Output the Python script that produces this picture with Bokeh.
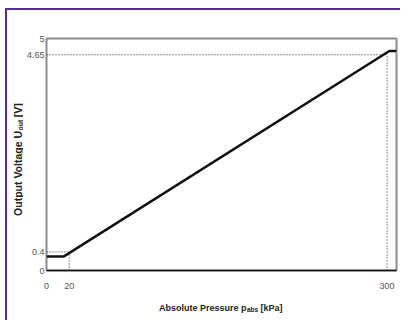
import math
from bokeh.plotting import figure
from bokeh.layouts import column, row
from bokeh.models import FixedTicker, Label, Range1d
from bokeh.embed import file_html
from bokeh.resources import INLINE

# Transfer characteristic
curve_p = [0, 15, 302, 308.3]          # absolute pressure, kPa
curve_u = [0.30, 0.30, 4.73, 4.73]     # output voltage, V

# Marked operating points (dotted guide lines)
mark_p = [20, 300]
mark_u = [0.4, 4.65]

x_ticks = [0, 20, 300]
y_ticks = [0, 0.4, 4.65, 5]
x_tick_labels = {0: "0", 20: "20", 300: "300"}
y_tick_labels = {0: "0", 0.4: "0.4", 4.65: "4.65", 5: "5"}

x_title = ["Absolute Pressure p", "abs", "[kPa]"]
y_title = ["Output Voltage U", "out", "[V]"]

FONT = "Liberation Sans"
PURPLE = "#5b2f8f"
TITLE_COLOR = "#222222"

# ---------------- main chart ----------------
P_W, P_H = 377, 286
p = figure(width=P_W, height=P_H, output_backend="svg", toolbar_location=None,
           x_range=Range1d(0, 308.3), y_range=Range1d(0, 5),
           min_border_left=20, min_border_right=4, min_border_top=28,
           min_border_bottom=26)
p.background_fill_color = "white"
p.border_fill_color = "white"
p.grid.visible = False
p.outline_line_color = "#8c8c8c"
p.outline_line_width = 2

p.xaxis.ticker = FixedTicker(ticks=x_ticks)
p.xaxis.major_label_overrides = x_tick_labels
p.yaxis.ticker = FixedTicker(ticks=y_ticks)
p.yaxis.major_label_overrides = y_tick_labels
for ax in (p.xaxis, p.yaxis):
    ax.major_tick_line_color = None
    ax.minor_tick_line_color = None
    ax.major_tick_out = 0
    ax.major_tick_in = 0
    ax.minor_tick_out = 0
    ax.minor_tick_in = 0
    ax.major_label_text_font = FONT
    ax.major_label_text_font_size = "9px"
    ax.major_label_text_color = "#555555"
p.xaxis.axis_line_color = "#111111"
p.xaxis.axis_line_width = 1.5
p.yaxis.axis_line_color = None
p.xaxis.major_label_standoff = 12
p.yaxis.major_label_standoff = 2

for xp, yu in zip(mark_p, mark_u):
    p.line([0, xp], [yu, yu], line_color="#222222", line_width=1, line_dash="1 2")
    p.line([xp, xp], [0, yu], line_color="#222222", line_width=1, line_dash="1 2")

p.line(curve_p, curve_u, line_color="#111111", line_width=2.5)


def blank(w, h):
    f = figure(width=w, height=h, output_backend="svg", toolbar_location=None,
               x_range=Range1d(0, w), y_range=Range1d(0, h),
               x_axis_location=None, y_axis_location=None,
               min_border=0, min_border_left=0, min_border_right=0,
               min_border_top=0, min_border_bottom=0)
    f.grid.visible = False
    f.outline_line_color = None
    f.background_fill_color = "white"
    f.border_fill_color = "white"
    return f


# ---------------- y axis title (left strip) ----------------
# main text ends (right-aligned) where the subscript starts, so pieces never overlap
FY_W = 16
fy = blank(FY_W, P_H)
ys = dict(text_font=FONT, text_font_style="bold", text_color=TITLE_COLOR,
          text_baseline="middle", angle=math.pi / 2)
yq = 172              # join point main/subscript, px from strip bottom
fy.add_layout(Label(x=10.5, y=yq, text=y_title[0], text_align="right",
                    text_font_size="10.5px", **ys))
fy.add_layout(Label(x=13, y=yq + 0.5, text=y_title[1], text_align="left",
                    text_font_size="7px", **ys))
fy.add_layout(Label(x=10.5, y=yq + 17, text=y_title[2], text_align="left",
                    text_font_size="10.5px", **ys))

# ---------------- x axis title (bottom strip) ----------------
FX_W, FX_H = FY_W + P_W, 24
fx = blank(FX_W, FX_H)
xs = dict(text_font=FONT, text_font_style="bold", text_color=TITLE_COLOR,
          text_baseline="alphabetic")
xq = 239              # join point main/subscript, px from strip left
fx.add_layout(Label(x=xq, y=13, text=x_title[0], text_align="right",
                    text_font_size="9px", **xs))
fx.add_layout(Label(x=xq + 0.5, y=11, text=x_title[1], text_align="left",
                    text_font_size="6.5px", **xs))
fx.add_layout(Label(x=xq + 14, y=13, text=x_title[2], text_align="left",
                    text_font_size="9px", **xs))

layout = column(row(fy, p, spacing=0), fx, spacing=0)
layout.styles = {"border-left": f"2px solid {PURPLE}", "border-top": f"2px solid {PURPLE}",
                 "margin-left": "5px", "margin-top": "8px"}

open("out.html", "w").write(file_html(layout, INLINE))
